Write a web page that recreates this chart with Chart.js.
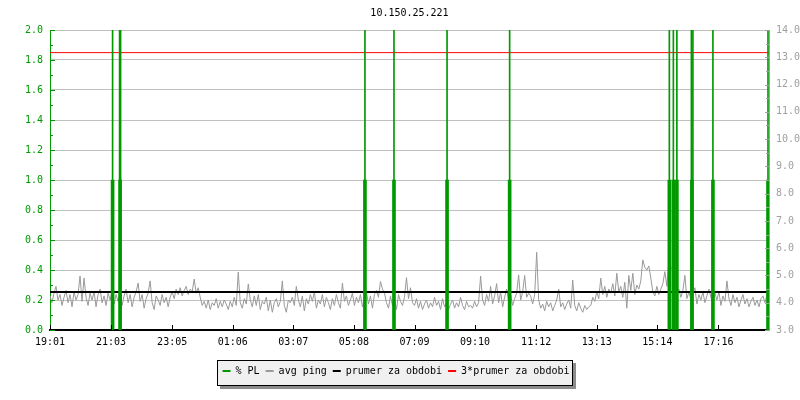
<!DOCTYPE html>
<html>
<head>
<meta charset="utf-8">
<title>10.150.25.221</title>
<script src="https://cdn.jsdelivr.net/npm/chart.js@4.4.1/dist/chart.umd.min.js"></script>
<style>
  body { margin: 0; background: #fff; }
  canvas { display: block; }
</style>
</head>
<body>
<canvas id="chartCanvasPing" width="800" height="400"></canvas>
<script>
// time axis, minutes counted from 19:01
var tickMinutes = [0, 122, 244, 365, 486, 607, 728, 849, 971, 1092, 1213, 1335];
var tickLabels = ['19:01', '21:03', '23:05', '01:06', '03:07', '05:08', '07:09', '09:10', '11:12', '13:13', '15:14', '17:16'];
var rangeMinutes = 1436;
var sampleStep = 4;

// avg ping [ms], one sample every 4 minutes (right axis)
var avgPing = [
  4.25, 4.0, 4.35, 4.6, 4.1, 4.3, 3.9, 4.2, 4.45, 4.0, 4.3, 3.85, 4.4, 4.1, 4.3, 4.98, 4.05, 4.9, 4.2, 3.9, 4.35, 4.1, 4.4, 3.85, 4.3, 4.5, 4.0, 4.25, 3.9, 4.35,
  4.1, 4.4, 3.95, 4.3, 4.05, 4.45, 3.9, 4.25, 4.5, 4.0, 4.3, 3.85, 4.2, 4.4, 4.72, 4.05, 4.3, 3.8, 4.15, 4.35, 4.8, 4.0, 3.75, 4.25, 4.1, 3.9, 4.3, 4.0, 4.2, 3.85,
  4.2, 4.4, 4.15, 4.5, 4.3, 4.55, 4.25, 4.45, 4.6, 4.3, 4.5, 4.4, 4.87, 4.35, 4.55, 4.2, 3.9, 4.05, 3.8, 4.1, 3.75, 4.0, 3.9, 4.15, 3.8, 4.05, 3.85, 4.1, 3.95, 3.75,
  4.05, 3.85, 4.2, 3.9, 5.12, 4.0, 3.8, 4.15, 3.95, 4.69, 4.1, 3.85, 4.25, 3.9, 4.3, 3.75, 4.05, 3.95, 4.2, 3.7, 4.1, 3.65, 4.0, 4.15, 3.85, 4.05, 4.8, 3.9, 3.65, 4.1,
  4.0, 4.2, 3.9, 4.6, 4.1, 3.85, 4.25, 3.7, 4.15, 3.95, 4.3, 4.05, 4.4, 3.8, 4.1, 3.95, 4.3, 3.85, 4.2, 4.0, 3.75, 4.15, 3.9, 4.3, 4.0, 3.8, 4.72, 4.05, 4.25, 3.9,
  4.1, 4.35, 3.9, 4.2, 4.0, 4.3, 3.85, 4.15, 4.4, 3.95, 4.25, 3.8, 4.3, 4.45, 4.2, 4.78, 4.5, 4.35, 4.0, 3.8, 4.25, 3.9, 4.15, 3.75, 4.3, 4.05, 3.9, 4.2, 4.92, 4.15,
  4.55, 4.0, 3.9, 4.15, 3.8, 4.05, 3.75, 3.95, 4.1, 3.8, 4.0, 3.85, 4.2, 3.9, 4.05, 3.75, 4.15, 3.85, 4.0, 3.75, 3.95, 4.1, 3.8, 4.0, 3.85, 4.2, 3.9, 3.75, 4.05, 3.85,
  3.9, 3.8, 4.05, 3.85, 4.0, 4.98, 4.1, 3.9, 4.3, 4.05, 4.6, 3.95, 4.25, 4.7, 4.0, 4.4, 3.85, 4.2, 4.5, 4.05, 4.3, 3.9, 4.15, 4.35, 5.02, 4.1, 4.4, 5.0, 4.2, 4.35,
  4.25, 3.95, 4.3, 5.85, 4.1, 3.8, 3.95, 3.7, 4.05, 3.85, 4.0, 3.7, 3.9, 4.1, 4.5, 3.85, 4.0, 3.75, 3.95, 4.1, 3.8, 4.83, 3.9, 3.7, 4.0, 3.8, 3.65, 3.9, 3.75, 3.85,
  3.9, 4.2, 4.05, 4.4, 4.15, 4.9, 4.3, 4.6, 4.2, 4.5, 4.35, 4.7, 4.25, 5.08, 4.4, 4.6, 4.2, 4.75, 3.8, 5.0, 4.45, 5.08, 4.3, 4.65, 4.5, 4.8, 5.57, 5.3, 5.2, 5.35,
  4.9, 4.4, 4.25, 4.6, 4.3, 4.5, 4.7, 5.14, 4.6, 5.5, 5.3, 5.2, 4.6, 4.3, 4.5, 4.2, 4.45, 5.0, 4.15, 4.4, 4.1, 4.35, 4.55, 3.95, 4.3, 4.1, 4.4, 4.0, 4.25, 4.5,
  4.2, 3.95, 4.35, 4.1, 4.4, 3.9, 4.25, 4.05, 4.8, 4.15, 3.9, 4.3, 4.0, 4.2, 3.85, 4.1, 4.3, 3.95, 4.15, 3.85, 4.05, 4.2, 3.9, 4.1, 3.85, 4.15, 4.25, 4.0, 4.3
];

// period average and 3x average [ms]
var prumer = 4.39;
var prumer3 = 13.17;

// packet loss [%] (left axis)
var plTimes = [125, 140, 629, 687, 793, 918, 1237, 1245, 1252, 1282, 1324, 1434];
var plValues = [1.0, 1.0, 1.0, 1.0, 1.0, 1.0, 1.0, 1.0, 1.0, 1.0, 1.0, 1.0];
// loss spikes going off the top of the scale
var plSpikeTimes = [125, 139, 141, 629, 687, 793, 918, 1237, 1245, 1252, 1281, 1284, 1324, 1434];
var plSpikeValues = [2.0, 2.0, 2.0, 2.0, 2.0, 2.0, 2.0, 2.0, 2.0, 2.0, 2.0, 2.0, 2.0, 2.0];

var green = '#009a00';
var fontMono = { family: "'DejaVu Sans Mono', monospace", size: 10, weight: 'normal' };

Chart.defaults.font.family = fontMono.family;
Chart.defaults.font.size = 10;

function pairs(xs, ys) {
  var out = [];
  for (var i = 0; i < xs.length; i++) out.push({ x: xs[i], y: ys[i] });
  return out;
}

var pingData = avgPing.map(function(v, i) { return { x: i * sampleStep, y: v }; });

// inward tick marks + legend frame
var frameDecor = {
  id: 'frameDecor',
  afterLayout: function(chart) {
    // legend box sits a little left of the canvas centre
    var lg = chart.legend;
    if (lg) { lg.left -= 4; lg.right -= 4; }
  },
  beforeDraw: function(chart) {
    var lg = chart.legend;
    if (!lg || !lg.legendHitBoxes || !lg.legendHitBoxes.length) return;
    var hb = lg.legendHitBoxes;
    var last = hb[hb.length - 1];
    var left = Math.round(hb[0].left - 6);
    var right = Math.round(last.left + last.width + 3);
    var top = Math.round(hb[0].top - 6);
    var h = 25;
    var c = chart.ctx;
    c.save();
    c.fillStyle = '#8c8c8c';
    c.fillRect(left + 3, top + 3, right - left + 1, h + 1);
    c.fillStyle = '#f0f0f0';
    c.fillRect(left, top, right - left, h);
    c.strokeStyle = '#000';
    c.lineWidth = 1;
    c.strokeRect(left + 0.5, top + 0.5, right - left, h);
    c.restore();
  },
  afterDatasetsDraw: function(chart) {
    var c = chart.ctx;
    var area = chart.chartArea;
    var y = chart.scales.y, y2 = chart.scales.y2, x = chart.scales.x;
    c.save();
    c.lineWidth = 1;
    // left axis
    c.strokeStyle = green;
    y.ticks.forEach(function(t, i) {
      var p = Math.round(y.getPixelForValue(t.value)) + 0.5;
      c.beginPath(); c.moveTo(area.left, p); c.lineTo(area.left + 5, p); c.stroke();
      if (i < y.ticks.length - 1) {
        var m = Math.round(y.getPixelForValue((t.value + y.ticks[i + 1].value) / 2)) + 0.5;
        c.beginPath(); c.moveTo(area.left, m); c.lineTo(area.left + 3, m); c.stroke();
      }
    });
    // right axis
    c.strokeStyle = '#a0a0a0';
    y2.ticks.forEach(function(t, i) {
      var p = Math.round(y2.getPixelForValue(t.value)) + 0.5;
      c.beginPath(); c.moveTo(area.right, p); c.lineTo(area.right - 4, p); c.stroke();
      if (i < y2.ticks.length - 1) {
        var m = Math.round(y2.getPixelForValue((t.value + y2.ticks[i + 1].value) / 2)) + 0.5;
        c.beginPath(); c.moveTo(area.right, m); c.lineTo(area.right - 3, m); c.stroke();
      }
    });
    // time axis
    c.strokeStyle = '#000';
    x.ticks.forEach(function(t) {
      var p = Math.round(x.getPixelForValue(t.value)) + 0.5;
      c.beginPath(); c.moveTo(p, area.bottom); c.lineTo(p, area.bottom - 5); c.stroke();
    });
    c.restore();
  }
};

var ctx = document.getElementById('chartCanvasPing').getContext('2d');
var chart = new Chart(ctx, {
  type: 'line',
  data: {
    datasets: [
      {
        label: '% PL',
        type: 'bar',
        data: pairs(plTimes, plValues),
        backgroundColor: green,
        borderWidth: 0,
        barThickness: 3,
        grouped: false,
        clip: 0,
        yAxisID: 'y',
        order: 1
      },
      {
        label: '',
        type: 'bar',
        data: pairs(plSpikeTimes, plSpikeValues),
        backgroundColor: green,
        borderWidth: 0,
        barThickness: 1,
        grouped: false,
        clip: 0,
        yAxisID: 'y',
        order: 2
      },
      {
        label: 'avg ping',
        data: pingData,
        borderColor: '#999999',
        backgroundColor: '#999999',
        borderWidth: 1,
        pointRadius: 0,
        yAxisID: 'y2',
        order: 5
      },
      {
        label: 'prumer za obdobi',
        data: [{ x: 0, y: prumer }, { x: rangeMinutes, y: prumer }],
        borderColor: '#000000',
        backgroundColor: '#000000',
        borderWidth: 2,
        pointRadius: 0,
        yAxisID: 'y2',
        order: 4
      },
      {
        label: '3*prumer za obdobi',
        data: [{ x: 0, y: prumer3 }, { x: rangeMinutes, y: prumer3 }],
        borderColor: '#ff0000',
        backgroundColor: '#ff0000',
        borderWidth: 1,
        pointRadius: 0,
        yAxisID: 'y2',
        order: 3
      }
    ]
  },
  options: {
    responsive: false,
    animation: false,
    events: [],
    layout: { padding: { left: 0, right: 0, top: 0, bottom: 14 } },
    plugins: {
      tooltip: { enabled: false },
      title: {
        display: true,
        text: '10.150.25.221',
        fullSize: false,
        color: '#000',
        font: fontMono,
        padding: { top: 7, bottom: 11 }
      },
      legend: {
        position: 'bottom',
        labels: {
          boxWidth: 8,
          boxHeight: 2,
          padding: 6,
          color: '#000',
          font: fontMono,
          generateLabels: function(chart) {
            var items = [];
            chart.data.datasets.forEach(function(d, i) {
              if (!d.label) return;
              items.push({
                text: d.label,
                fillStyle: d.backgroundColor,
                strokeStyle: d.backgroundColor,
                lineWidth: 0,
                hidden: false,
                datasetIndex: i
              });
            });
            return items;
          }
        }
      }
    },
    scales: {
      x: {
        type: 'linear',
        min: 0,
        max: rangeMinutes,
        offset: false,
        afterBuildTicks: function(s) {
          s.ticks = tickMinutes.map(function(m) { return { value: m }; });
        },
        afterFit: function(s) { s.height = 30; },
        ticks: {
          autoSkip: false,
          maxRotation: 0,
          minRotation: 0,
          padding: 6,
          color: '#000',
          font: fontMono,
          callback: function(v, i) { return tickLabels[i]; }
        },
        grid: { drawOnChartArea: false, drawTicks: false, offset: false },
        border: { color: '#000', width: 2 }
      },
      y: {
        position: 'left',
        min: 0,
        max: 2,
        afterFit: function(s) { s.width = 50; },
        ticks: {
          stepSize: 0.2,
          padding: 7,
          color: green,
          font: fontMono,
          callback: function(v) { return Number(v).toFixed(1); }
        },
        grid: {
          drawTicks: false,
          color: function(c) { return c.tick && c.tick.value === 0 ? 'rgba(0,0,0,0)' : '#c0c0c0'; }
        },
        border: { color: green, width: 1 }
      },
      y2: {
        position: 'right',
        min: 3,
        max: 14,
        afterFit: function(s) { s.width = 31; },
        ticks: {
          stepSize: 1,
          padding: 7,
          color: '#a0a0a0',
          font: fontMono,
          callback: function(v) { return Number(v).toFixed(1); }
        },
        grid: { drawOnChartArea: false, drawTicks: false },
        border: { color: '#a0a0a0', width: 1 }
      }
    }
  },
  plugins: [frameDecor]
});
</script>
</body>
</html>
